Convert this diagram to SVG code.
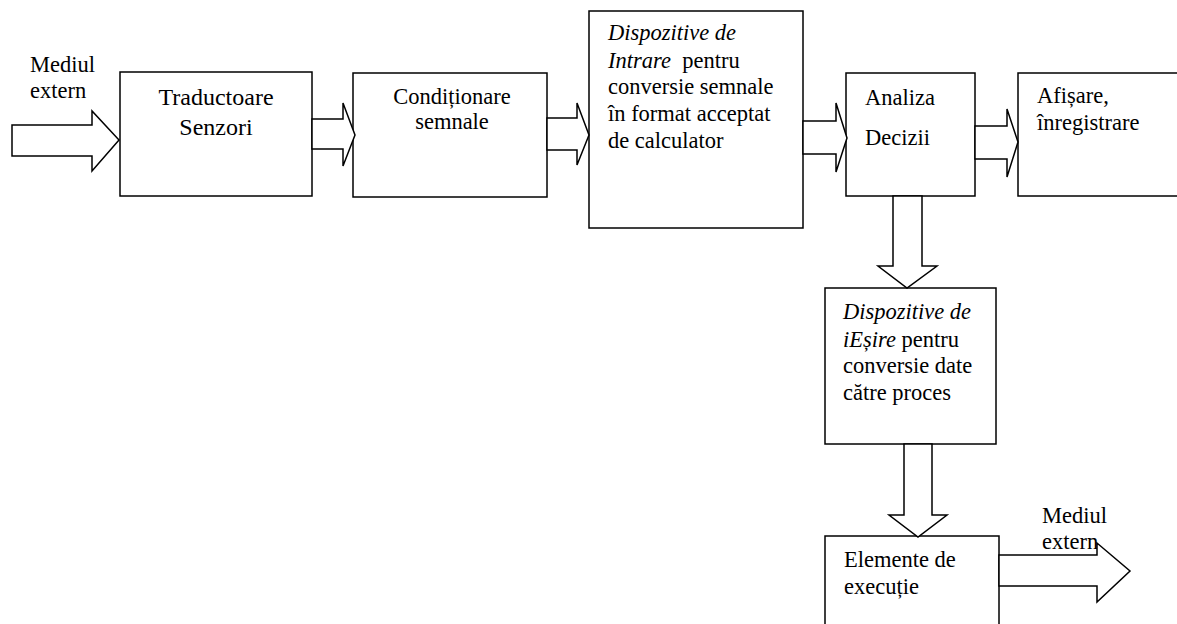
<svg xmlns="http://www.w3.org/2000/svg" width="1177" height="624" viewBox="0 0 1177 624">
<style>
.box{fill:#fff;stroke:#000;stroke-width:1.5}
.arr{fill:#fff;stroke:#000;stroke-width:1.5;stroke-linejoin:miter}
text{font-family:"Liberation Serif","Times New Roman",serif;fill:#000;font-size:22.5px}
.it{font-style:italic}
</style>
<rect width="1177" height="624" fill="#fff"/>
<g id="label-in"><text x="30" y="72">Mediul</text><text x="30" y="98">extern</text></g>
<g id="n1"><rect class="box" x="120" y="72" width="192" height="124"/><text x="216" y="105" text-anchor="middle" style="font-size:24px">Traductoare</text><text x="216" y="135" text-anchor="middle" style="font-size:24px">Senzori</text></g>
<g id="n2"><rect class="box" x="353" y="73" width="194" height="124"/><text x="452" y="104" text-anchor="middle">Condiționare</text><text x="452" y="129" text-anchor="middle">semnale</text></g>
<g id="n3"><rect class="box" x="589" y="11" width="214" height="217"/><text x="608" y="40"><tspan class="it">Dispozitive de</tspan></text><text x="608" y="68" xml:space="preserve"><tspan class="it">Intrare</tspan>  pentru</text><text x="608" y="94">conversie semnale</text><text x="608" y="121">în format acceptat</text><text x="608" y="148">de calculator</text></g>
<g id="n4"><rect class="box" x="846" y="73" width="129" height="123"/><text x="865" y="105">Analiza</text><text x="865" y="145">Decizii</text></g>
<g id="n5"><rect class="box" x="1018" y="73" width="170" height="123"/><text x="1037" y="103">Afișare,</text><text x="1037" y="130">înregistrare</text></g>
<g id="n6"><rect class="box" x="825" y="288" width="171" height="156"/><text x="843" y="319" class="it">Dispozitive de</text><text x="843" y="347"><tspan class="it">iEșire</tspan> pentru</text><text x="843" y="373">conversie date</text><text x="843" y="400">către proces</text></g>
<g id="n7"><rect class="box" x="825" y="536" width="174" height="100"/><text x="844" y="567">Elemente de</text><text x="844" y="594">execuție</text></g>
<g id="label-out"><text x="1042" y="523">Mediul</text><text x="1042" y="549">extern</text></g>
<g id="connectors">
<polygon class="arr" points="12,125 92,125 92,111 119,140 92,171 92,156 12,156"/>
<polygon class="arr" points="312,119 343,119 343,103 355,135 343,166 343,149 312,149"/>
<polygon class="arr" points="547,118 577,118 577,103 589,135 577,165 577,150 547,150"/>
<polygon class="arr" points="803,121 836,121 836,103 847,138 836,172 836,154 803,154"/>
<polygon class="arr" points="975,126 1007,126 1007,109 1018,142 1007,177 1007,159 975,159"/>
<polygon class="arr" points="893,196 893,266 878,266 907,288 937,266 922,266 922,196"/>
<polygon class="arr" points="904,444 904,515 889,515 918,537 947,515 932,515 932,444"/>
<polygon class="arr" points="999,555 1097,555 1097,543 1130,571 1097,602 1097,586 999,586"/>
</g>
</svg>
